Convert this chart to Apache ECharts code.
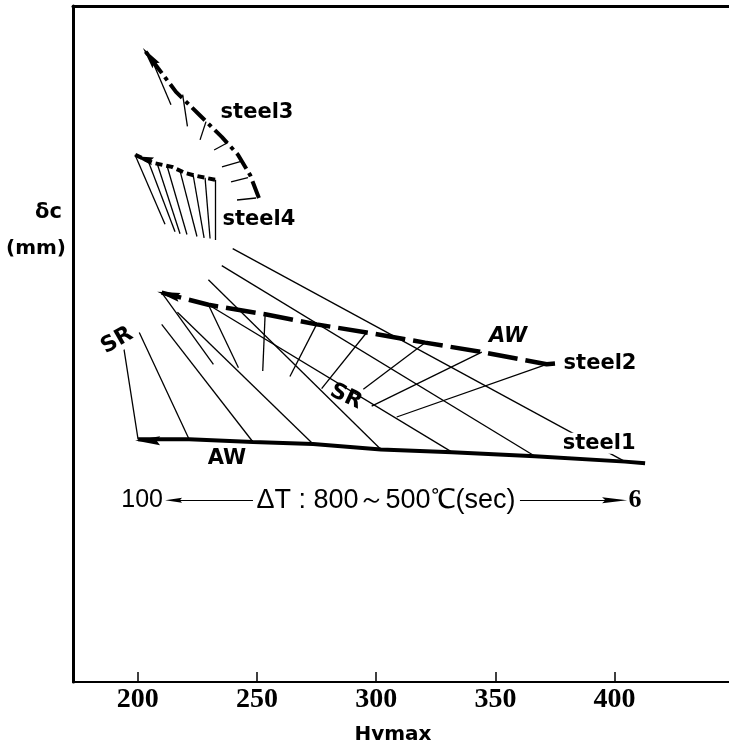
<!DOCTYPE html>
<html>
<head>
<meta charset="utf-8">
<script src="https://cdn.jsdelivr.net/npm/echarts@6/dist/echarts.min.js"></script>
<style>
  html, body { margin: 0; padding: 0; background: #fff; }
  #chart { width: 729px; height: 750px; }
</style>
</head>
<body>
<div id="chart"></div>
<script>
// Hvmax axis ticks
const hvTicks = [200, 250, 300, 350, 400];

// steel1: as-welded points from ΔT = 100 s (left) to 6 s (right), and the SR points they move to
const steel1AW = [[200.1, 35.9], [221.5, 35.9], [248.3, 35.5], [273.5, 35.2], [302.0, 34.4], [331.8, 34.0], [366.6, 33.4], [404.4, 32.6]];
const steel1SR = [[194.2, 49.2], [200.6, 51.7], [210.0, 52.9], [216.6, 54.7], [229.6, 59.5], [229.6, 55.8], [235.2, 61.6], [239.8, 64.1]];
const steel1Tail = [412.8, 32.35];
const steel1Arrow = [[248.3, 35.5], [204.1, 35.7]];

// steel2: as-welded points and their SR points
const steel2AW = [[210.0, 57.6], [229.6, 55.8], [253.4, 54.4], [275.0, 52.9], [296.0, 51.7], [320.5, 50.2], [344.3, 48.8], [371.5, 47.0]];
const steel2SR = [[231.7, 47.0], [242.2, 46.5], [252.4, 46.0], [263.8, 45.2], [277.1, 43.4], [294.6, 43.3], [298.1, 40.8], [308.6, 39.2]];
const steel2Tail = [375.0, 47.1];
const steel2Arrow = [[229.6, 55.8], [212.8, 57.3]];

// steel3: curve and its short branches
const steel3Curve = [[202.1, 93.8], [208.5, 90.8], [216.0, 87.3], [226.1, 83.8], [235.3, 80.6], [242.0, 78.0], [247.1, 75.0], [250.8, 71.6]];
const steel3From = [[206.4, 91.6], [218.8, 86.9], [228.6, 82.9], [237.8, 79.8], [243.3, 77.0], [246.2, 74.6], [249.6, 71.6]];
const steel3To = [[213.9, 85.4], [220.8, 82.2], [226.1, 80.2], [232.0, 78.7], [235.3, 76.2], [239.1, 74.0], [241.6, 71.3]];
const steel3Arrow = [[216.0, 87.3], [204.9, 92.5]];

// steel4: curve and its fan of branches
const steel4Curve = [[198.8, 78.0], [206.4, 76.8], [214.3, 76.2], [219.8, 75.3], [224.0, 74.9], [228.2, 74.6], [232.4, 74.3]];
const steel4From = [[198.8, 78.0], [204.3, 77.1], [208.1, 76.7], [212.2, 76.4], [217.7, 75.6], [223.2, 75.0], [228.2, 74.6], [232.4, 74.3]];
const steel4To = [[211.4, 67.7], [215.6, 66.6], [217.7, 66.3], [220.6, 66.2], [224.8, 65.9], [227.8, 65.7], [230.3, 65.6], [232.4, 65.4]];
const steel4Arrow = [[214.3, 76.2], [202.5, 77.4]];

// cooling time scale row
const dtLeftArrow = [[248.3, 26.9], [215.0, 26.9]];
const dtRightArrow = [[360.3, 26.9], [400.0, 26.9]];

// annotation texts and where they sit
const labelTexts = ['steel1', 'steel2', 'steel3', 'steel4', 'AW', 'AW', 'SR', 'SR', '100', 'ΔT : 800～500℃(sec)', '6'];
const labelPositions = [[393.5, 35.3], [393.9, 47.1], [250.0, 84.2], [250.8, 68.4], [237.4, 33.1], [355.3, 51.1], [191.3, 50.5], [287.3, 42.2], [201.8, 26.9], [304.1, 26.9], [408.6, 26.9]];

const BLACK = '#000';
const ARROW = 'path://M5,0L10,30L5,26L0,30Z';
const sansBold = { fontFamily: 'DejaVu Sans', fontWeight: 'bold', fontSize: 21, color: BLACK };
const labelStyles = [
  Object.assign({}, sansBold, { backgroundColor: '#fff', padding: [0, 2] }),
  sansBold,
  sansBold,
  sansBold,
  sansBold,
  Object.assign({}, sansBold, { fontStyle: 'italic' }),
  Object.assign({}, sansBold, { fontSize: 22, rotate: 30, backgroundColor: '#fff' }),
  Object.assign({}, sansBold, { fontSize: 22, rotate: -25 }),
  { fontFamily: 'Liberation Sans', fontSize: 25, color: BLACK },
  { fontFamily: 'Liberation Sans', fontSize: 27, color: BLACK },
  { fontFamily: 'Liberation Serif', fontWeight: 'bold', fontSize: 26, color: BLACK }
];

const pairs = (a, b) => a.map((p, i) => ({ coords: [p, b[i]] }));
const curve = (name, pts, width, dash) => ({
  type: 'line', name: name, data: pts, showSymbol: false, symbol: 'none', silent: true, z: 3,
  lineStyle: { color: BLACK, width: width, type: dash, cap: 'butt' }
});

const chart = echarts.init(document.getElementById('chart'), null, { renderer: 'canvas' });

chart.setOption({
  animation: false,
  backgroundColor: '#fff',
  grid: { left: 73, right: 0, top: 6, bottom: 67, containLabel: false },
  xAxis: [{
    type: 'value', min: 172.8, max: 448,
    name: 'Hvmax', nameLocation: 'middle', nameGap: 43,
    nameTextStyle: { fontFamily: 'DejaVu Sans', fontWeight: 'bold', fontSize: 20, color: BLACK, padding: [0, 16, 0, 0] },
    axisLine: { show: true, onZero: false, lineStyle: { color: BLACK, width: 2 } },
    axisTick: { show: true, inside: true, length: 10, customValues: hvTicks, lineStyle: { color: BLACK, width: 1.5 } },
    axisLabel: { customValues: hvTicks, margin: 4, fontFamily: 'Liberation Serif', fontWeight: 'bold', fontSize: 28, color: BLACK },
    splitLine: { show: false }
  }, {
    type: 'value', position: 'top', min: 172.8, max: 448,
    axisLine: { show: true, onZero: false, lineStyle: { color: BLACK, width: 3 } },
    axisTick: { show: false }, axisLabel: { show: false }, splitLine: { show: false }
  }],
  yAxis: {
    type: 'value', min: 0, max: 100,
    axisLine: { show: true, onZero: false, lineStyle: { color: BLACK, width: 3 } },
    axisTick: { show: false }, axisLabel: { show: false }, splitLine: { show: false }
  },
  graphic: [
    { type: 'text', x: 62, y: 213, style: { text: 'δc', font: 'bold 21px "DejaVu Sans"', fill: BLACK, align: 'right', verticalAlign: 'middle' } },
    { type: 'text', x: 66, y: 249, style: { text: '(mm)', font: 'bold 20px "DejaVu Sans"', fill: BLACK, align: 'right', verticalAlign: 'middle' } }
  ],
  series: [
    curve('steel1 AW', [steel1Tail].concat(steel1AW.slice().reverse()), 4, 'solid'),
    curve('steel2 AW', [steel2Tail].concat(steel2AW.slice().reverse()), 4.5, [30, 8]),
    curve('steel3', steel3Curve.slice().reverse(), 4, [18, 5, 4, 5]),
    curve('steel4', steel4Curve.slice().reverse(), 4, [7, 4]),
    {
      type: 'lines', name: 'branches', coordinateSystem: 'cartesian2d', silent: true, z: 2,
      lineStyle: { color: BLACK, width: 1.3, opacity: 1 },
      data: [].concat(pairs(steel1AW, steel1SR), pairs(steel2AW, steel2SR), pairs(steel3From, steel3To), pairs(steel4From, steel4To))
    },
    {
      type: 'lines', name: 'arrowheads', coordinateSystem: 'cartesian2d', silent: true, z: 4,
      symbol: ['none', ARROW],
      lineStyle: { color: BLACK, width: 0, opacity: 1 },
      data: [
        { coords: steel1Arrow, symbolSize: [0, [9, 25]] },
        { coords: steel2Arrow, symbolSize: [0, [9, 23]] },
        { coords: steel3Arrow, symbolSize: [0, [9, 22]] },
        { coords: steel4Arrow, symbolSize: [0, [8, 19]] }
      ]
    },
    {
      type: 'lines', name: 'cooling time', coordinateSystem: 'cartesian2d', silent: true, z: 4,
      symbol: ['none', ARROW],
      lineStyle: { color: BLACK, width: 1.2, opacity: 1 },
      data: [
        { coords: dtLeftArrow, symbolSize: [0, [5, 17]] },
        { coords: dtRightArrow, symbolSize: [0, [6, 25]] }
      ]
    },
    {
      type: 'scatter', name: 'annotations', symbolSize: 0, silent: true, z: 6,
      itemStyle: { opacity: 1 },
      data: labelTexts.map((t, i) => ({
        value: labelPositions[i],
        label: Object.assign({ show: true, formatter: t, position: 'inside', align: 'center', verticalAlign: 'middle' }, labelStyles[i])
      }))
    }
  ]
});
</script>
</body>
</html>
